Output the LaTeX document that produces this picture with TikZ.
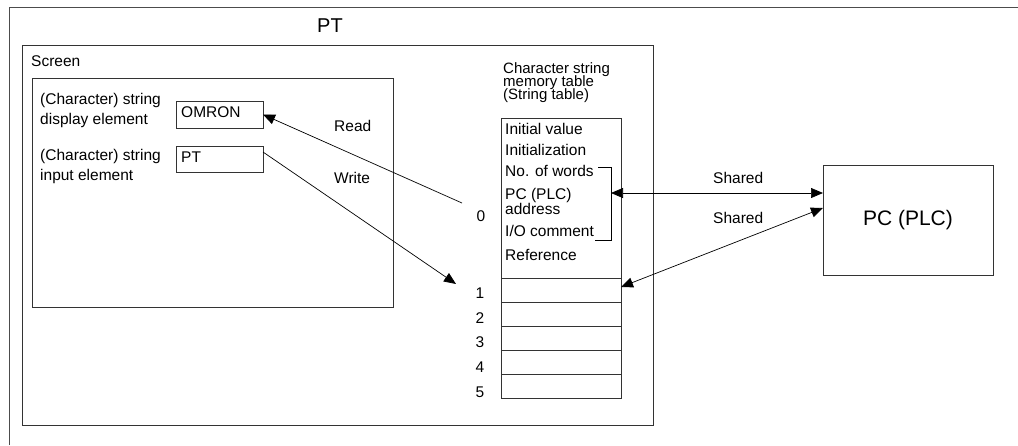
\documentclass[tikz,border=0pt]{standalone}
\usepackage{fontspec}
\setmainfont{Liberation Sans}
\usetikzlibrary{arrows.meta}
\begin{document}
\begin{tikzpicture}[x=1pt,y=-1pt,
 frame/.style={draw=black!70, line width=0.9pt},
 box/.style={draw=black!80, line width=0.8pt, anchor=north west, inner sep=0pt, outer sep=0pt},
 lbl/.style={anchor=base west, inner sep=0pt, font=\fontsize{15.5}{18}\selectfont},
 hdr/.style={anchor=base west, inner sep=0pt, font=\fontsize{15}{15}\selectfont},
 num/.style={anchor=base, inner sep=0pt, font=\fontsize{15.5}{18}\selectfont},
 conn/.style={line width=0.7pt, -{Triangle[length=12pt,width=10pt]}},
 dconn/.style={line width=0.7pt, {Triangle[length=12pt,width=10pt]}-{Triangle[length=12pt,width=10pt]}},
]
\useasboundingbox (0,0) rectangle (1018,445);
% outer frame (only top and left edges visible)
\coordinate (fbl) at (9,445);
\coordinate (ftl) at (9,7);
\coordinate (ftr) at (1018,7);
\draw[frame] (fbl) -- (ftl) -- (ftr);

% PT box
\node[box, minimum width=631pt, minimum height=380pt] (ptbox) at (22,45) {};
\node[anchor=base, inner sep=0pt, font=\fontsize{20}{24}\selectfont] (pttitle) at (330,32) {PT};

% Screen
\node[lbl] (screenlbl) at (31,66) {Screen};
\node[box, minimum width=361pt, minimum height=229pt] (screen) at (32,78) {};
\node[lbl] (dl1) at (40,104) {(Character) string};
\node[lbl] (dl2) at (40,124) {display element};
\node[lbl] (il1) at (40,160) {(Character) string};
\node[lbl] (il2) at (40,180) {input element};
\node[box, minimum width=87pt, minimum height=27pt] (omron) at (176,101) {};
\node[lbl] (omrontxt) at (181,117) {OMRON};
\node[box, minimum width=87pt, minimum height=26pt] (ptin) at (176,146) {};
\node[lbl] (ptintxt) at (181,162) {PT};
\node[lbl] (readlbl) at (334,131) {Read};
\node[lbl] (writelbl) at (334,183) {Write};

% String table
\node[hdr] (th1) at (503,73.5) {Character string};
\node[hdr] (th2) at (503,86.5) {memory table};
\node[hdr] (th3) at (503,99.5) {(String table)};
\node[box, minimum width=120pt, minimum height=160pt] (r0) at (501,118) {};
\node[box, minimum width=120pt, minimum height=24pt] (r1) at (501,278) {};
\node[box, minimum width=120pt, minimum height=24pt] (r2) at (501,302) {};
\node[box, minimum width=120pt, minimum height=24pt] (r3) at (501,326) {};
\node[box, minimum width=120pt, minimum height=24pt] (r4) at (501,350) {};
\node[box, minimum width=120pt, minimum height=24pt] (r5) at (501,374) {};
\node[lbl] (t1) at (505,134) {Initial value};
\node[lbl] (t2) at (505,155.5) {Initialization};
\node[lbl] (t3) at (505,176.5) {No. of words};
\node[lbl] (t4) at (505,199) {PC (PLC)};
\node[lbl] (t5) at (505,214) {address};
\node[lbl] (t6) at (505,236.5) {I/O comment};
\node[lbl] (t7) at (505,260) {Reference};
\node[num] (n0) at (481,221.5) {0};
\node[num] (n1) at (480,298) {1};
\node[num] (n2) at (480,323) {2};
\node[num] (n3) at (480,347) {3};
\node[num] (n4) at (480,372) {4};
\node[num] (n5) at (480,397) {5};
% bracket
\coordinate (bt) at (598,167);
\coordinate (btr) at (611,167);
\coordinate (bbr) at (611,240);
\coordinate (bb) at (595,240);
\coordinate (brkmid) at (611,193);
\draw[line width=0.7pt] (bt) -- (btr) -- (bbr) -- (bb);

% PC box
\node[box, minimum width=170pt, minimum height=110pt] (pc) at (823,165) {};
\node[anchor=base, inner sep=0pt, font=\fontsize{21}{24}\selectfont] (pctxt) at (908,225) {PC (PLC)};
\node[lbl] (sh1) at (713,183) {Shared};
\node[lbl] (sh2) at (713,223) {Shared};

% connectors
\coordinate (rstart) at (462,203);
\coordinate (wend) at (456,284);
\draw[conn] (rstart) -- (omron.east);
\draw[conn] ([yshift=7pt]ptin.east) -- (wend);
\draw[dconn] (brkmid) -- ([yshift=27pt]pc.west);
\draw[dconn] ([yshift=3pt]r1.east) -- ([yshift=12pt]pc.west);
\end{tikzpicture}
\end{document}
